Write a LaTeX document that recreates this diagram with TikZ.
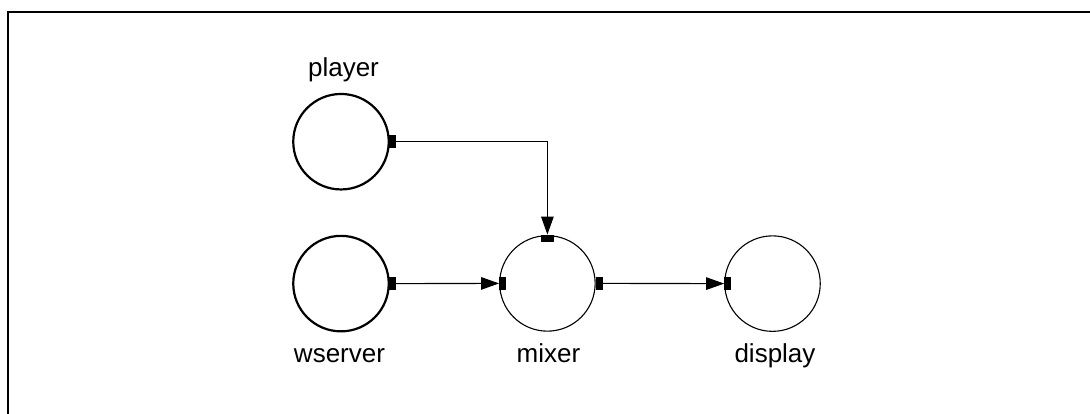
\documentclass[tikz,border=0pt]{standalone}
\usepackage{fontspec}
\setmainfont{Liberation Sans}
\usetikzlibrary{arrows.meta}
\tikzset{
  proc/.style={circle, draw, minimum size=95.5pt, inner sep=0pt},
  thickproc/.style={proc, line width=2.2pt},
  thinproc/.style={proc, line width=1.1pt},
  vport/.style={rectangle, fill=black, minimum width=7pt, minimum height=13pt, inner sep=0pt},
  hport/.style={rectangle, fill=black, minimum width=13pt, minimum height=7pt, inner sep=0pt},
  conn/.style={line width=1.1pt, -{Triangle[length=18pt,width=12.5pt]}},
  lbl/.style={anchor=base, inner sep=0pt, font=\fontsize{26}{30}\selectfont},
  frame/.style={line width=1.8pt}
}
\begin{document}
\begin{tikzpicture}[x=1pt, y=-1pt]
\useasboundingbox (0,0) rectangle (1090,413);
\clip (0,0) rectangle (1090,413);
\draw[frame] (8.3,11.7) rectangle (1300,600);

\node[thickproc] (player) at (341,141.7) {};
\node[thickproc] (wserver) at (341,283.6) {};
\node[thinproc] (mixer) at (547.4,283.4) {};
\node[thinproc] (display) at (772.5,283.6) {};

\node[lbl] (lplayer) at (343.5,76.7) {player};
\node[lbl] (lwserver) at (339.5,362) {wserver};
\node[lbl] (lmixer) at (548.5,362) {mixer};
\node[lbl] (ldisplay) at (775,362) {display};

\node[vport, anchor=west] (pout) at ([xshift=-1.5pt]player.east) {};
\node[vport, anchor=west] (wout) at ([xshift=-1.5pt]wserver.east) {};
\node[vport, anchor=west] (mout) at (mixer.east) {};
\node[vport, anchor=west] (min) at (mixer.west) {};
\node[hport, anchor=north] (mtop) at ([yshift=0.5pt]mixer.north) {};
\node[vport, anchor=west] (din) at (display.west) {};

\draw[conn] (pout.east) -| (mtop.north);
\draw[conn] (wout.east) -- (min.west);
\draw[conn] (mout.east) -- (din.west);
\end{tikzpicture}
\end{document}
